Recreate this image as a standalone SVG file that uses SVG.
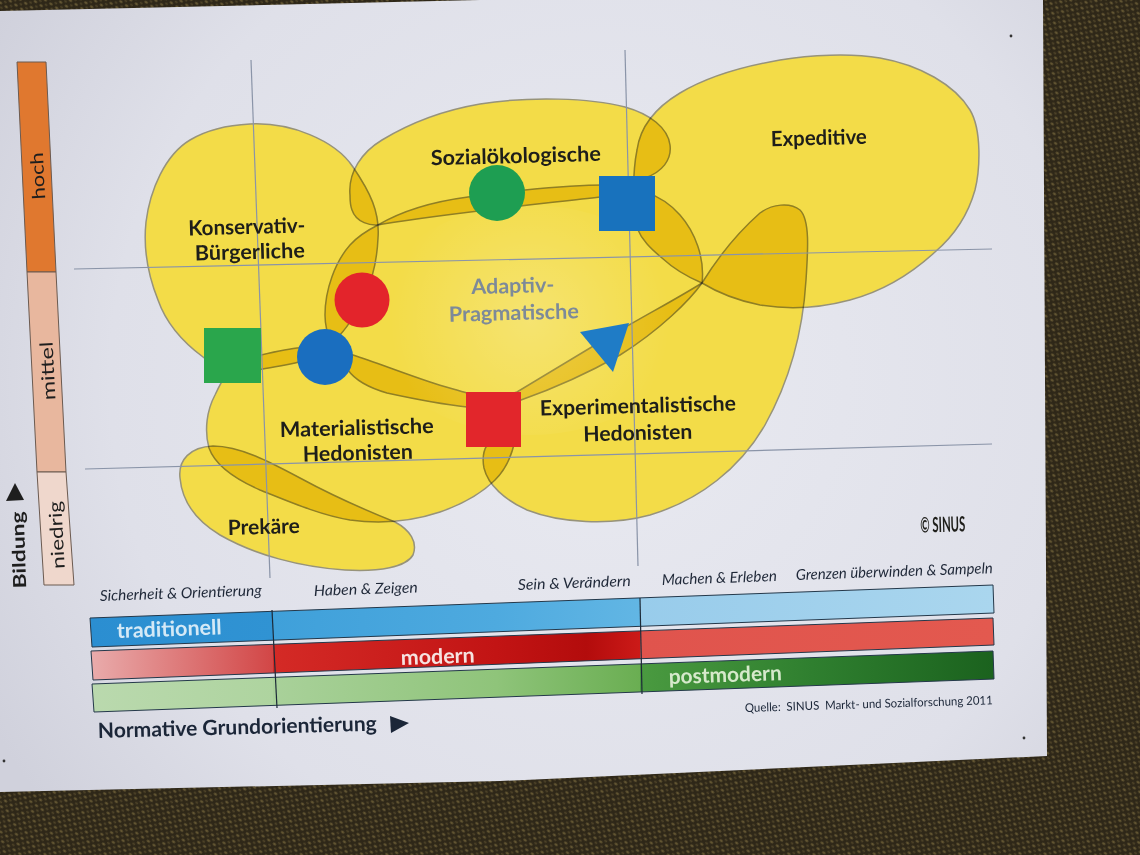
<svg xmlns="http://www.w3.org/2000/svg" width="1140" height="855" viewBox="0 0 1140 855">
<defs>
  <pattern id="weave" width="7" height="7" patternUnits="userSpaceOnUse" patternTransform="rotate(35)">
    <rect width="7" height="7" fill="#2e2718"/>
    <ellipse cx="2" cy="2" rx="1.8" ry="1.2" fill="#625532"/>
    <ellipse cx="5.5" cy="5.5" rx="1.6" ry="1.1" fill="#4e4328"/>
  </pattern>
  <radialGradient id="paperGrad" cx="600" cy="380" r="700" gradientUnits="userSpaceOnUse">
    <stop offset="0" stop-color="#e9eaf1"/>
    <stop offset="0.7" stop-color="#dfe0e9"/>
    <stop offset="1" stop-color="#d0d1dc"/>
  </radialGradient>
  <radialGradient id="glare" cx="530" cy="320" r="140" gradientUnits="userSpaceOnUse">
    <stop offset="0" stop-color="#ffffff" stop-opacity="0.22"/>
    <stop offset="1" stop-color="#ffffff" stop-opacity="0"/>
  </radialGradient>
  <linearGradient id="gBlue" x1="90" y1="0" x2="993" y2="0" gradientUnits="userSpaceOnUse">
    <stop offset="0" stop-color="#2b8ed1"/>
    <stop offset="0.203" stop-color="#3093d3"/>
    <stop offset="0.203" stop-color="#3fa0da"/>
    <stop offset="0.45" stop-color="#4eaadf"/>
    <stop offset="0.609" stop-color="#62b6e4"/>
    <stop offset="0.609" stop-color="#98cceb"/>
    <stop offset="1" stop-color="#aad6ee"/>
  </linearGradient>
  <linearGradient id="gRed" x1="90" y1="0" x2="993" y2="0" gradientUnits="userSpaceOnUse">
    <stop offset="0" stop-color="#e9acac"/>
    <stop offset="0.203" stop-color="#d24646"/>
    <stop offset="0.203" stop-color="#d42a26"/>
    <stop offset="0.45" stop-color="#c21414"/>
    <stop offset="0.55" stop-color="#b30c0c"/>
    <stop offset="0.609" stop-color="#cc1a18"/>
    <stop offset="0.609" stop-color="#e0544d"/>
    <stop offset="1" stop-color="#e3594f"/>
  </linearGradient>
  <linearGradient id="gGreen" x1="90" y1="0" x2="993" y2="0" gradientUnits="userSpaceOnUse">
    <stop offset="0" stop-color="#bad9ae"/>
    <stop offset="0.203" stop-color="#aed49f"/>
    <stop offset="0.203" stop-color="#a9d19a"/>
    <stop offset="0.45" stop-color="#8fc47a"/>
    <stop offset="0.609" stop-color="#6aae52"/>
    <stop offset="0.609" stop-color="#4a9a40"/>
    <stop offset="0.8" stop-color="#2f7f2f"/>
    <stop offset="1" stop-color="#1b621e"/>
  </linearGradient>
  <style>
    .blob { fill: #f3dc48; stroke: #97937a; stroke-width: 1.5; mix-blend-mode: multiply; }
    .grid { stroke: #8a94a8; stroke-width: 1.2; fill: none; }
    .lbl { font-family: Lato, "Liberation Sans", sans-serif; font-weight: 700; font-size: 21px; fill: #1e1e1a; text-anchor: middle; }
    .lblA { fill: #7d8a99; }
    .ital { font-family: Lato, "Liberation Sans", sans-serif; font-style: italic; font-size: 15px; fill: #1f2838; }
    .bartxt { font-family: Lato, "Liberation Sans", sans-serif; font-weight: 700; font-size: 21px; }
    .axis { font-family: Lato, "Liberation Sans", sans-serif; font-size: 18px; fill: #1e1e1e; text-anchor: middle; }
    .bar { stroke: #24384a; stroke-width: 1; }
    .div { stroke: #1c2a38; stroke-width: 1.2; }
  </style>
</defs>

<!-- background and paper -->
<rect x="0" y="0" width="1140" height="855" fill="url(#weave)"/>
<polygon points="0,11 480,0 1043,0 1047,756 500,781 0,792" fill="url(#paperGrad)"/>
<circle cx="1011" cy="36" r="1.4" fill="#333"/>
<circle cx="1024" cy="738" r="1.4" fill="#333"/>
<circle cx="4" cy="761" r="1.4" fill="#333"/>

<!-- vertical axis (Bildung) -->
<g id="axis-bildung">
  <polygon points="17,62 46,62 56,272 27,272" fill="#e0782f" stroke="#6b5a50" stroke-width="1"/>
  <polygon points="27,272 56,272 66,472 37,472" fill="#e8b79e" stroke="#6b5a50" stroke-width="1"/>
  <polygon points="37,472 66,472 74,585 44,585" fill="#efd7cc" stroke="#6b5a50" stroke-width="1"/>
  <text class="axis" x="37" y="176" dominant-baseline="central" transform="rotate(-93 37 176)" textLength="47" lengthAdjust="spacingAndGlyphs">hoch</text>
  <text class="axis" x="47" y="371" dominant-baseline="central" transform="rotate(-93 47 371)" textLength="59" lengthAdjust="spacingAndGlyphs">mittel</text>
  <text class="axis" x="56" y="535" dominant-baseline="central" transform="rotate(-93 56 535)" textLength="68" lengthAdjust="spacingAndGlyphs">niedrig</text>
  <text class="axis" x="18" y="550" dominant-baseline="central" font-weight="700" transform="rotate(-92 18 550)" textLength="77" lengthAdjust="spacingAndGlyphs">Bildung</text>
  <polygon points="6,501 24,500 15,483" fill="#1e1e1e"/>
</g>

<!-- milieu blobs -->
<g id="milieus" style="isolation:isolate">
  <g id="node-konservativ-buergerliche">
    <path class="blob" d="M250,124 C290,122 335,140 353,167 C370,192 380,212 378,238 C377,262 372,280 365,295 C357,312 348,328 335,340 C320,352 310,360 295,363 C280,366 265,369 255,370 C235,371 215,368 203,357 C180,340 165,320 158,300 C148,275 143,250 146,222 C150,190 165,155 190,140 C210,128 230,125 250,124 Z"/>
  </g>
  <g id="node-sozialoekologische">
    <path class="blob" d="M350,195 C348,172 362,152 382,140 C410,123 445,110 480,104 C530,96 590,98 625,107 C650,114 668,128 670,145 C672,160 662,172 645,178 C630,185 615,195 600,197 C540,204 450,213 383,224 C370,227 356,222 352,210 C350,205 350,200 350,195 Z"/>
  </g>
  <g id="node-expeditive">
    <path class="blob" d="M637,150 C640,128 655,108 680,93 C710,75 745,66 780,60 C810,55 850,53 880,58 C920,65 955,85 970,110 C982,130 980,170 975,190 C968,215 955,235 935,252 C910,275 880,292 850,300 C820,308 790,310 760,305 C740,301 720,294 702,283 C690,278 675,270 662,258 C650,248 642,240 637,228 C633,210 632,175 637,150 Z"/>
  </g>
  <g id="node-adaptiv-pragmatische">
    <path class="blob" d="M378,225 C400,212 430,202 468,197 L525,190 C555,187 580,185 605,185 C630,185 660,192 680,215 C695,232 705,258 702,283 C690,300 660,330 620,355 C590,372 555,388 521,400 L467,407 C440,404 410,398 387,393 C370,388 355,380 348,370 C335,355 325,335 325,315 C325,290 335,262 350,245 C358,236 368,230 378,225 Z"/>
  </g>
  <g id="node-experimentalistische-hedonisten">
    <path class="blob" d="M702,283 C715,262 735,235 760,213 C772,204 790,202 800,210 C810,220 808,250 806,280 C803,330 790,380 765,425 C740,468 700,500 650,515 C610,526 560,523 527,510 C505,500 488,485 484,468 C482,458 484,450 487,445 L490,400 L517,392 C540,378 570,360 600,342 C640,318 675,300 702,283 Z"/>
  </g>
  <g id="node-materialistische-hedonisten">
    <path class="blob" d="M240,360 C260,355 280,350 297,348 C315,346 335,350 353,355 C375,362 400,372 430,382 C445,387 458,390 467,393 L515,440 C512,455 505,470 495,480 C480,495 460,505 440,512 C410,522 380,524 350,520 C320,515 290,502 260,490 C235,479 215,465 209,448 C204,430 207,410 215,395 C222,380 230,365 240,360 Z"/>
  </g>
  <g id="node-prekaere">
    <path class="blob" d="M180,478 C178,460 190,447 213,446 C240,446 270,462 300,478 C335,497 370,512 395,522 C410,530 418,542 413,555 C406,567 380,572 345,570 C300,567 255,555 220,535 C195,520 182,500 180,478 Z"/>
  </g>
</g>
<ellipse cx="530" cy="320" rx="160" ry="115" fill="url(#glare)"/>

<!-- grid -->
<g id="grid">
  <line class="grid" x1="251" y1="60" x2="270" y2="578"/>
  <line class="grid" x1="625" y1="50" x2="638" y2="566"/>
  <line class="grid" x1="74" y1="269" x2="992" y2="249"/>
  <line class="grid" x1="85" y1="469" x2="992" y2="444"/>
</g>

<!-- markers -->
<g id="markers">
  <g id="marker-green-circle"><circle cx="497" cy="193" r="28" fill="#1e9e52"/></g>
  <g id="marker-blue-square"><rect x="599" y="176" width="56" height="55" fill="#1872bd"/></g>
  <g id="marker-red-circle"><circle cx="362" cy="300" r="27.5" fill="#e3242b"/></g>
  <g id="marker-blue-circle"><circle cx="325" cy="357" r="28" fill="#1a6ebf"/></g>
  <g id="marker-green-square"><rect x="204" y="328" width="57" height="55" fill="#2aa64c"/></g>
  <g id="marker-red-square"><rect x="466" y="392" width="55" height="55" fill="#e2262b"/></g>
  <g id="marker-blue-triangle"><polygon points="580,332 629,323 613,372" fill="#1f7cc6"/></g>
</g>

<!-- milieu labels -->
<g id="labels">
  <text class="lbl" x="516" y="163" transform="rotate(-1.5 516 163)" textLength="170" lengthAdjust="spacingAndGlyphs">Sozialökologische</text>
  <text class="lbl" x="819" y="145" transform="rotate(-1.5 819 145)" textLength="96" lengthAdjust="spacingAndGlyphs">Expeditive</text>
  <text class="lbl" x="247" y="234" transform="rotate(-1.5 247 234)" textLength="117" lengthAdjust="spacingAndGlyphs">Konservativ-</text>
  <text class="lbl" x="250" y="259" transform="rotate(-1.5 250 259)" textLength="110" lengthAdjust="spacingAndGlyphs">Bürgerliche</text>
  <text class="lbl lblA" x="513" y="293" transform="rotate(-1.5 513 293)" textLength="83" lengthAdjust="spacingAndGlyphs">Adaptiv-</text>
  <text class="lbl lblA" x="514" y="320" transform="rotate(-1.5 514 320)" textLength="130" lengthAdjust="spacingAndGlyphs">Pragmatische</text>
  <text class="lbl" x="357" y="435" transform="rotate(-1.5 357 435)" textLength="154" lengthAdjust="spacingAndGlyphs">Materialistische</text>
  <text class="lbl" x="358" y="460" transform="rotate(-1.5 358 460)" textLength="110" lengthAdjust="spacingAndGlyphs">Hedonisten</text>
  <text class="lbl" x="638" y="413" transform="rotate(-1.5 638 413)" textLength="196" lengthAdjust="spacingAndGlyphs">Experimentalistische</text>
  <text class="lbl" x="638" y="440" transform="rotate(-1.5 638 440)" textLength="109" lengthAdjust="spacingAndGlyphs">Hedonisten</text>
  <text class="lbl" x="264" y="534" transform="rotate(-1.5 264 534)" textLength="72" lengthAdjust="spacingAndGlyphs">Prekäre</text>
  <text class="lbl" x="943" y="532" font-size="12" transform="rotate(-1.5 943 532)" textLength="45" lengthAdjust="spacingAndGlyphs">© SINUS</text>
</g>

<!-- horizontal axis: value orientation -->
<g id="axis-grundorientierung">
  <text class="ital" x="100" y="601" transform="rotate(-2 100 601)" textLength="162" lengthAdjust="spacingAndGlyphs">Sicherheit &amp; Orientierung</text>
  <text class="ital" x="314" y="596" transform="rotate(-2 314 596)" textLength="104" lengthAdjust="spacingAndGlyphs">Haben &amp; Zeigen</text>
  <text class="ital" x="518" y="590" transform="rotate(-2 518 590)" textLength="113" lengthAdjust="spacingAndGlyphs">Sein &amp; Verändern</text>
  <text class="ital" x="662" y="585" transform="rotate(-2 662 585)" textLength="115" lengthAdjust="spacingAndGlyphs">Machen &amp; Erleben</text>
  <text class="ital" x="796" y="580" transform="rotate(-2 796 580)" textLength="197" lengthAdjust="spacingAndGlyphs">Grenzen überwinden &amp; Sampeln</text>

  <g id="bar-traditionell">
    <polygon class="bar" points="90,618 993,585 994,613 92,647" fill="url(#gBlue)"/>
    <text class="bartxt" x="117" y="638" fill="#d4e9f6" transform="rotate(-2 117 638)" textLength="105" lengthAdjust="spacingAndGlyphs">traditionell</text>
  </g>
  <g id="bar-modern">
    <polygon class="bar" points="91,651 993,618 994,645 93,680" fill="url(#gRed)"/>
    <text class="bartxt" x="401" y="665" fill="#f6e2e0" transform="rotate(-2 401 665)" textLength="74" lengthAdjust="spacingAndGlyphs">modern</text>
  </g>
  <g id="bar-postmodern">
    <polygon class="bar" points="92,684 993,651 994,679 94,712" fill="url(#gGreen)"/>
    <text class="bartxt" x="669" y="684" fill="#d6e9cb" transform="rotate(-2 669 684)" textLength="113" lengthAdjust="spacingAndGlyphs">postmodern</text>
  </g>
  <line class="div" x1="272" y1="610" x2="277" y2="708"/>
  <line class="div" x1="640" y1="598" x2="642" y2="694"/>

  <text class="bartxt" x="98" y="738" fill="#1b2638" transform="rotate(-1.5 98 738)" textLength="279" lengthAdjust="spacingAndGlyphs">Normative Grundorientierung</text>
  <polygon points="390,716 409,723 391,733" fill="#1b2638"/>
  <text x="745" y="712" font-family="Lato, 'Liberation Sans', sans-serif" font-size="12" fill="#1b2638" style="white-space:pre" transform="rotate(-1.8 745 712)" textLength="248" lengthAdjust="spacingAndGlyphs">Quelle:  SINUS  Markt- und Sozialforschung 2011</text>
</g>
</svg>
